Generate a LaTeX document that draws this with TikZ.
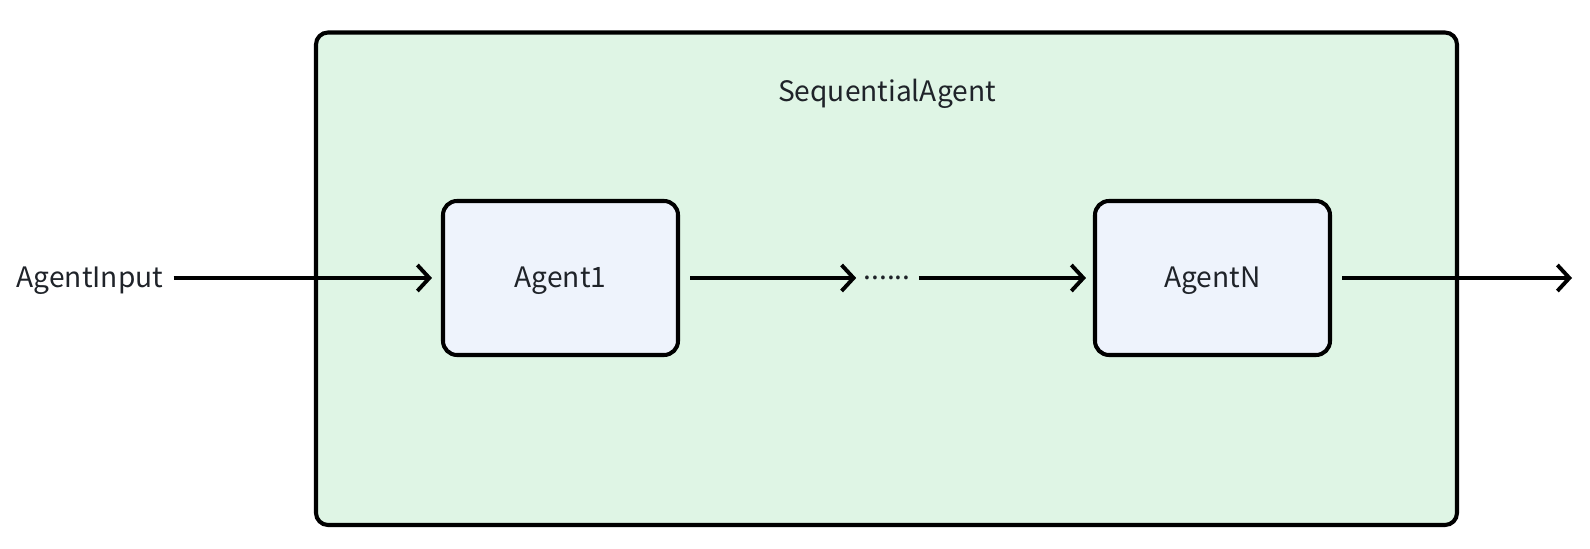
\documentclass[tikz,border=0pt]{standalone}
\usepackage{fontspec}
\setmainfont{Noto Sans CJK SC}
\usetikzlibrary{arrows.meta}
\usepackage{xcolor}
\definecolor{seqgreen}{HTML}{DFF5E5}
\definecolor{agentblue}{HTML}{EEF3FC}
\definecolor{txtdark}{HTML}{1F2329}

\begin{document}
\begin{tikzpicture}[font=\fontsize{16}{19}\selectfont, >={Straight Barb[length=0.24cm, width=0.52cm]},
        agentbox/.style={draw, line width=2.3pt, rounded corners=0.28cm, fill=agentblue, minimum width=4.7cm, minimum height=3.08cm, text=txtdark, text height=0.42cm, text depth=0.02cm},
        flow/.style={->, line width=2.2pt}]
        \useasboundingbox (0,0) rectangle (31.8,-10.98);

        % outer sequential container
        \node[draw, line width=2.3pt, rounded corners=0.24cm, fill=seqgreen, minimum width=22.82cm, minimum height=9.85cm] (seq) at (17.73,-5.575) {};
        \node[text=txtdark] (seqtitle) at (17.74,-1.88) {SequentialAgent};

        % agents
        \node[agentbox] (agent1) at (11.21,-5.56) {Agent1};
        \node[agentbox] (agentN) at (24.25,-5.56) {AgentN};
        \node[text=txtdark, inner sep=0pt] (dots) at (17.74,-5.56) {......};

        % input / output
        \node[text=txtdark, inner sep=0pt, text height=0.42cm, text depth=0.02cm] (input) at (1.8,-5.56) {AgentInput};
        \coordinate (output) at (31.44,-5.56);

        % flow arrows
        \draw[flow, shorten <=0.2cm, shorten >=0.18cm] (input) -- (agent1);
        \draw[flow, shorten <=0.2cm, shorten >=0.14cm] (agent1) -- (dots);
        \draw[flow, shorten <=0.16cm, shorten >=0.14cm] (dots) -- (agentN);
        \draw[flow, shorten <=0.2cm] (agentN) -- (output);
    \end{tikzpicture}
\end{document}
